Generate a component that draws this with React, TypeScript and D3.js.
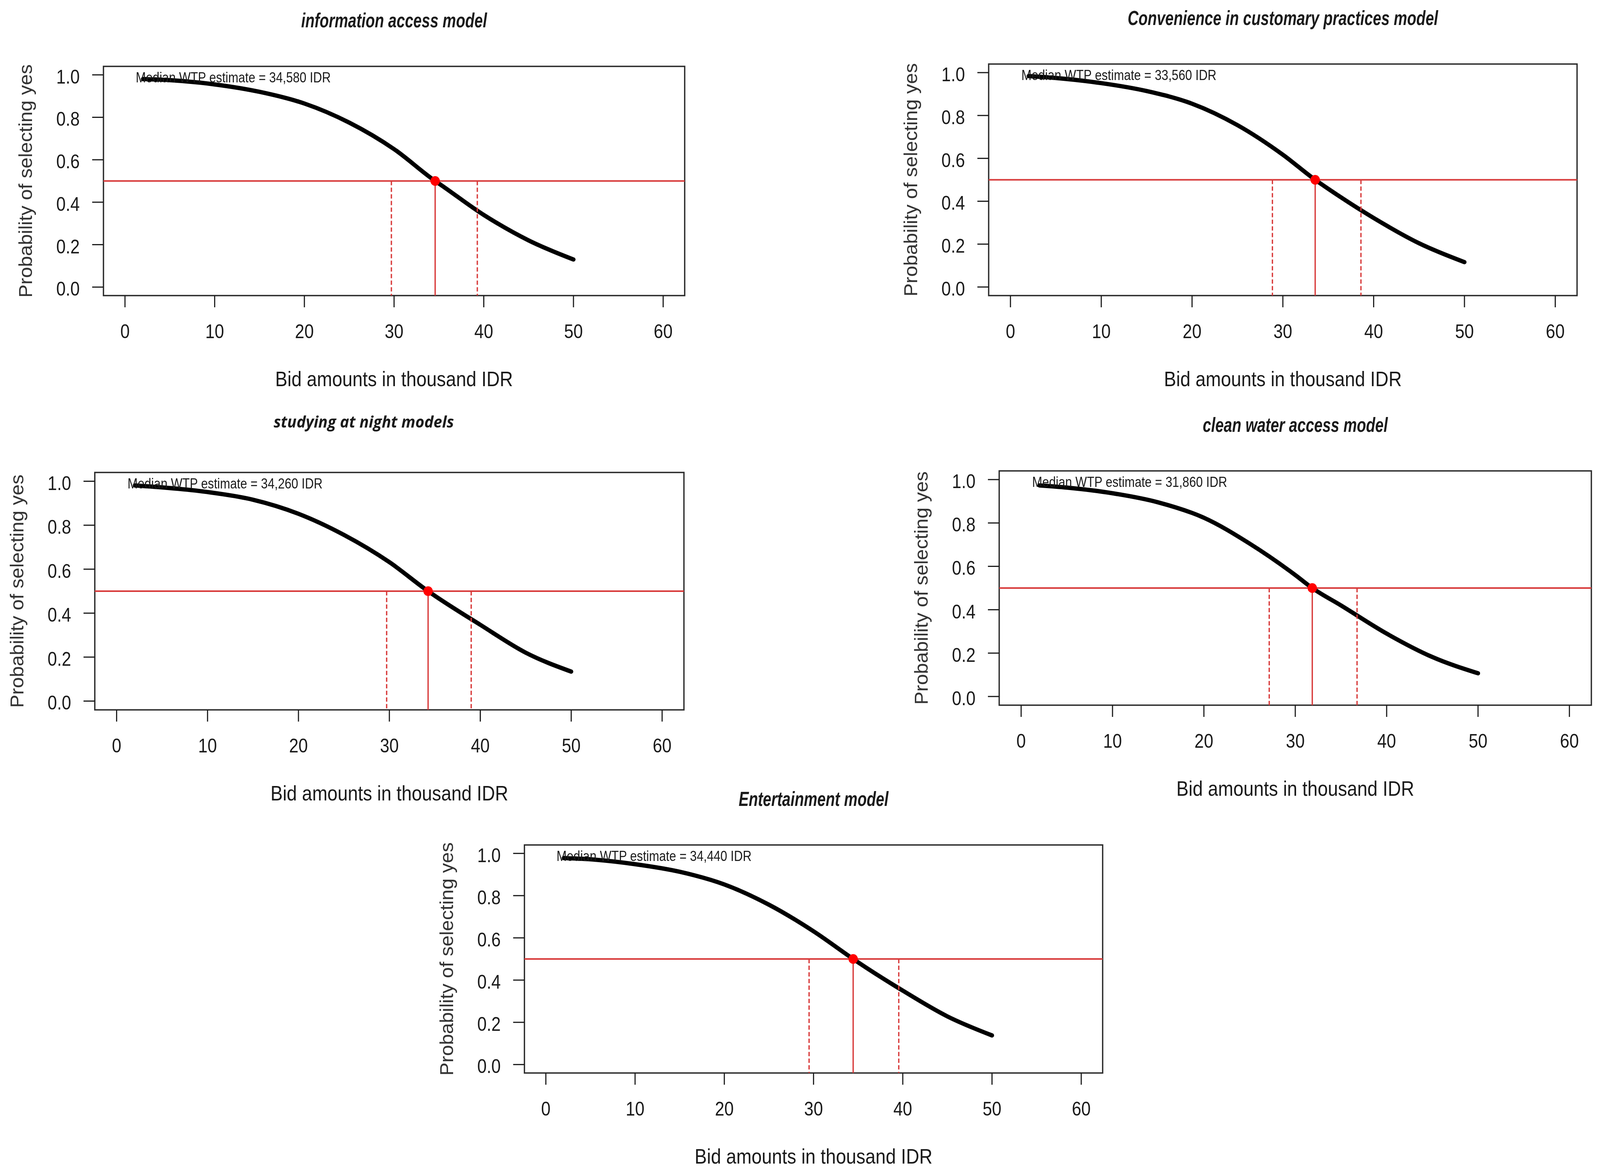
import React, { useEffect, useRef } from "react";
import * as d3 from "d3";

const bidPoints = [2, 5, 10, 15, 20, 25, 30, 35, 40, 45, 50];
const xTicks = [0, 10, 20, 30, 40, 50, 60];
const yTicks = [0, 0.2, 0.4, 0.6, 0.8, 1.0];

const modelTitles = [
  "information access model",
  "Convenience in customary practices model",
  "studying at night models",
  "clean water access model",
  "Entertainment model",
];

// probability of "yes" at each bid point
const infoAccessProb = [0.98, 0.975, 0.955, 0.92, 0.865, 0.775, 0.65, 0.488, 0.34, 0.22, 0.13];
const customaryProb = [0.984, 0.975, 0.951, 0.914, 0.855, 0.755, 0.617, 0.458, 0.322, 0.204, 0.116];
const studyNightProb = [0.981, 0.972, 0.951, 0.916, 0.852, 0.756, 0.632, 0.479, 0.347, 0.22, 0.134];
const cleanWaterProb = [0.973, 0.963, 0.937, 0.895, 0.824, 0.705, 0.56, 0.42, 0.29, 0.182, 0.107];
const entertainProb = [0.978, 0.972, 0.949, 0.913, 0.853, 0.757, 0.631, 0.484, 0.35, 0.228, 0.138];
const modelProbs = [infoAccessProb, customaryProb, studyNightProb, cleanWaterProb, entertainProb];

const medianWtp = [34.58, 33.56, 34.26, 31.86, 34.44];
const medianLabels = ["34,580", "33,560", "34,260", "31,860", "34,440"];
const ciLower = [29.7, 28.85, 29.7, 27.15, 29.5];
const ciUpper = [39.28, 38.6, 39.0, 36.76, 39.55];

// plot boxes in page pixels
const boxes = [
  { L: 275, R: 1820, T: 170, B: 757 },
  { L: 2628, R: 4192, T: 164, B: 757 },
  { L: 252, R: 1818, T: 1210, B: 1818 },
  { L: 2656, R: 4230, T: 1206, B: 1806 },
  { L: 1394, R: 2931, T: 2164, B: 2748 },
];

const W = 4253;
const H = 2999;
const sans = "'Liberation Sans', Arial, sans-serif";
const ink = "#1a1a1a";
const lineRed = "#d83a3a";

// title styling per panel (the third panel uses a different face in the original)
const titleStyle = [
  { font: sans, size: 52, sx: 0.77, dx: 0, gap: 100 },
  { font: sans, size: 52, sx: 0.77, dx: 0, gap: 100 },
  { font: "'Open Sans', sans-serif", size: 41, sx: 1, dx: -68, gap: 115 },
  { font: sans, size: 52, sx: 0.77, dx: 0, gap: 100 },
  { font: sans, size: 52, sx: 0.77, dx: 0, gap: 100 },
];

// text squeezed horizontally (the original figure uses a narrow face)
function addText(
  g: any,
  x: number,
  y: number,
  str: string,
  size: number,
  sx: number,
  anchor = "middle",
  extra: Record<string, string> = {}
) {
  const t = g
    .append("text")
    .attr("transform", `translate(${x},${y}) scale(${sx},1)`)
    .attr("text-anchor", anchor)
    .attr("font-family", sans)
    .attr("font-size", size)
    .attr("fill", ink)
    .text(str);
  Object.entries(extra).forEach(([k, v]) => t.attr(k, v));
  return t;
}

const App: React.FC = () => {
  const ref = useRef<SVGSVGElement | null>(null);

  useEffect(() => {
    const svg = d3.select(ref.current);
    svg.selectAll("*").remove();

    svg.append("rect").attr("width", W).attr("height", H).attr("fill", "#fff");

    boxes.forEach((b, i) => {
      const g = svg.append("g");
      const x = d3.scaleLinear().domain([-2.4, 62.4]).range([b.L, b.R]);
      const y = d3.scaleLinear().domain([-0.04, 1.04]).range([b.B, b.T]);
      const cx = (b.L + b.R) / 2;
      const cy = (b.T + b.B) / 2;

      // title
      const ts = titleStyle[i];
      addText(g, cx + ts.dx, b.T - ts.gap, modelTitles[i], ts.size, ts.sx, "middle", {
        "font-family": ts.font,
        "font-weight": "bold",
        "font-style": "italic",
      });

      // box
      g.append("rect")
        .attr("x", b.L)
        .attr("y", b.T)
        .attr("width", b.R - b.L)
        .attr("height", b.B - b.T)
        .attr("fill", "none")
        .attr("stroke", "#2a2a2a")
        .attr("stroke-width", 3.5);

      // y axis
      yTicks.forEach((t) => {
        g.append("line")
          .attr("x1", b.L - 30)
          .attr("x2", b.L)
          .attr("y1", y(t))
          .attr("y2", y(t))
          .attr("stroke", ink)
          .attr("stroke-width", 3);
        addText(g, b.L - 63, y(t) + 22, d3.format(".1f")(t), 50, 0.9, "end");
      });

      // x axis
      xTicks.forEach((t) => {
        g.append("line")
          .attr("x1", x(t))
          .attr("x2", x(t))
          .attr("y1", b.B)
          .attr("y2", b.B + 30)
          .attr("stroke", ink)
          .attr("stroke-width", 3);
        addText(g, x(t), b.B + 109, String(t), 50, 0.9);
      });

      // axis titles
      addText(g, cx, b.B + 232, "Bid amounts in thousand IDR", 54, 0.9);
      g.append("text")
        .attr("transform", `translate(${b.L - 190},${cy}) rotate(-90)`)
        .attr("text-anchor", "middle")
        .attr("font-family", sans)
        .attr("font-size", 50.5)
        .attr("fill", "#333")
        .text("Probability of selecting yes");

      // fitted curve, passing through the median point
      const pts: [number, number][] = bidPoints.map((bp, k) => [bp, modelProbs[i][k]]);
      pts.push([medianWtp[i], 0.5]);
      pts.sort((a, c) => a[0] - c[0]);
      const line = d3
        .line<[number, number]>()
        .x((d) => x(d[0]))
        .y((d) => y(d[1]))
        .curve(d3.curveMonotoneX);
      g.append("path")
        .attr("d", line(pts) as string)
        .attr("fill", "none")
        .attr("stroke", "#000")
        .attr("stroke-width", 11)
        .attr("stroke-linejoin", "round")
        .attr("stroke-linecap", "round");

      // median text
      addText(g, x(1.2), b.T + 41, `Median WTP estimate = ${medianLabels[i]} IDR`, 37, 0.875, "start");

      // reference lines
      g.append("line")
        .attr("x1", b.L)
        .attr("x2", b.R)
        .attr("y1", y(0.5))
        .attr("y2", y(0.5))
        .attr("stroke", lineRed)
        .attr("stroke-width", 4);
      g.append("line")
        .attr("x1", x(medianWtp[i]))
        .attr("x2", x(medianWtp[i]))
        .attr("y1", y(0.5))
        .attr("y2", b.B)
        .attr("stroke", lineRed)
        .attr("stroke-width", 3.5);
      [ciLower[i], ciUpper[i]].forEach((v) => {
        g.append("line")
          .attr("x1", x(v))
          .attr("x2", x(v))
          .attr("y1", y(0.5))
          .attr("y2", b.B)
          .attr("stroke", lineRed)
          .attr("stroke-width", 3.5)
          .attr("stroke-dasharray", "11,6");
      });
      g.append("circle")
        .attr("cx", x(medianWtp[i]))
        .attr("cy", y(0.5))
        .attr("r", 12.5)
        .attr("fill", "#ff0000");
    });
  }, []);

  return (
    <svg
      ref={ref}
      viewBox={`0 0 ${W} ${H}`}
      preserveAspectRatio="none"
      style={{ position: "fixed", left: 0, top: 0, width: "100vw", height: "100vh", display: "block" }}
    />
  );
};

export default App;
